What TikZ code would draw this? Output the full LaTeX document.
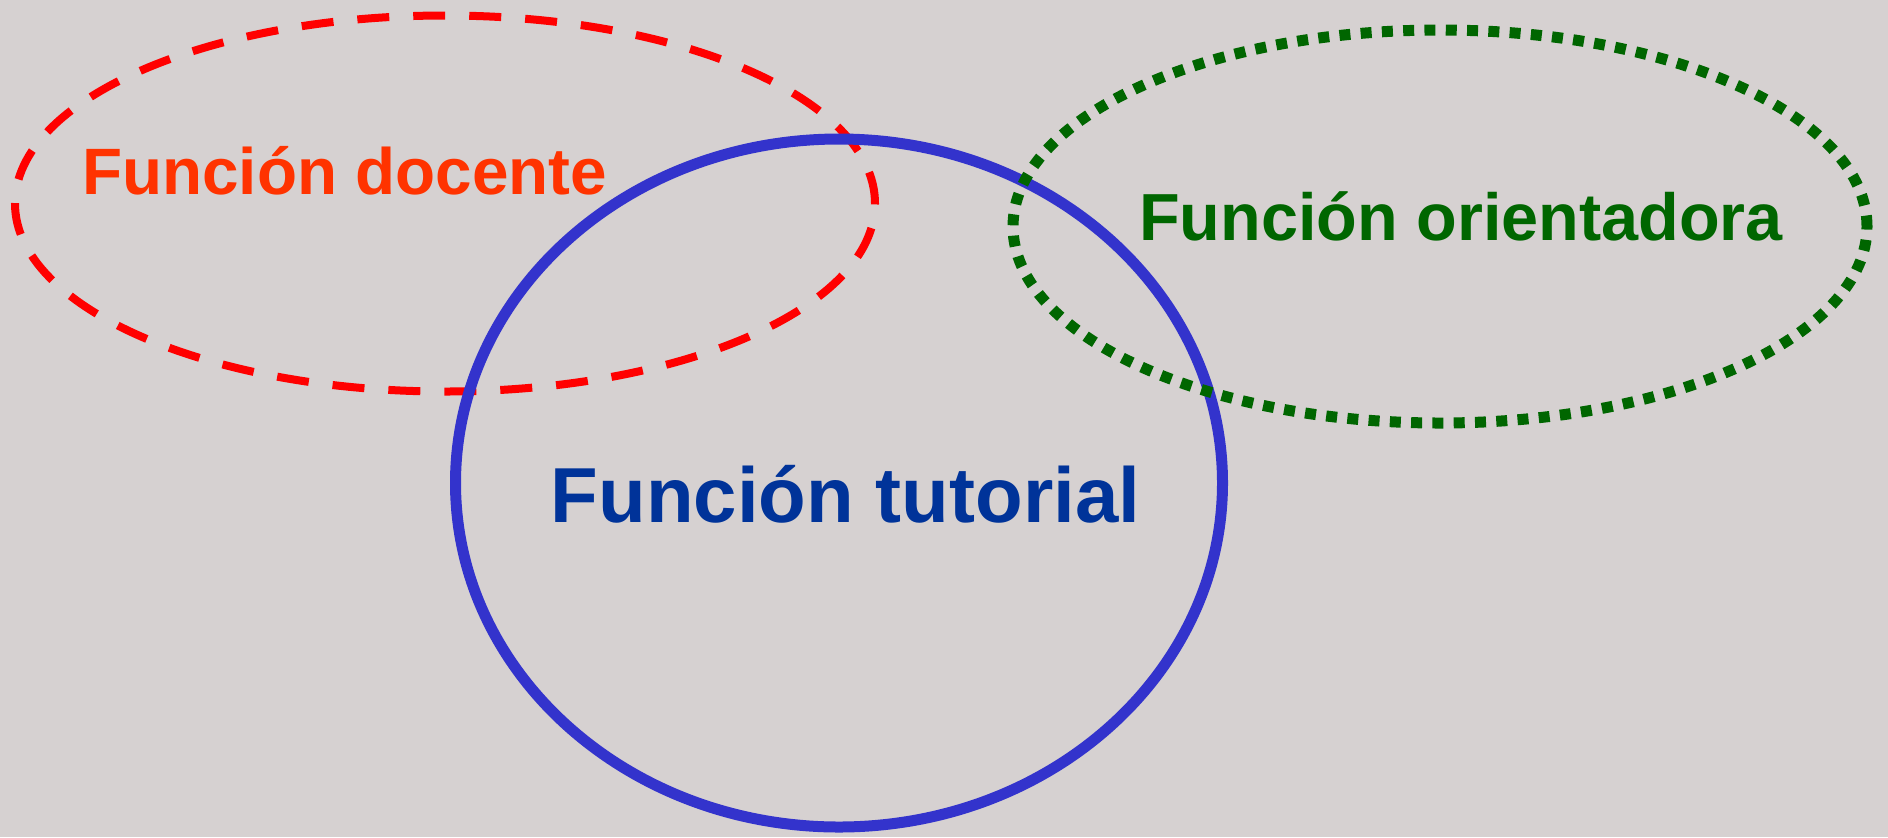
\documentclass[tikz,border=0pt]{standalone}
\usepackage{fontspec}
\setmainfont{Liberation Sans}
\usetikzlibrary{shapes.geometric}
\definecolor{bgcol}{HTML}{D6D1D1}
\definecolor{redline}{HTML}{FF0000}
\definecolor{redtext}{HTML}{FF3300}
\definecolor{greenline}{HTML}{006600}
\definecolor{blueline}{HTML}{3333CC}
\definecolor{bluetext}{HTML}{003399}
\tikzset{
  ring/.style={ellipse, inner sep=0pt, outer sep=0pt},
  lbl/.style={anchor=base, inner sep=0pt, font=\bfseries}
}
\begin{document}
\begin{tikzpicture}[x=0.5pt, y=-0.5pt]
\fill[bgcol] (0,0) rectangle (1888,837);
\useasboundingbox (0,0) rectangle (1888,837);
\node[ring, draw=redline, line width=4pt, dash pattern=on 16pt off 12pt,
      minimum width=430pt, minimum height=188pt] (docring) at (445,203.5) {};
\node[ring, draw=blueline, line width=5.5pt,
      minimum width=383.5pt, minimum height=344pt] (tutring) at (839,483) {};
\node[ring, draw=greenline, line width=5.5pt, dash pattern=on 5.5pt off 5.15pt,
      minimum width=427pt, minimum height=196.5pt] (oriring) at (1440,226.5) {};
\node[lbl, text=redtext, font=\bfseries\fontsize{32.8pt}{36pt}\selectfont] (doc) at (344.5,194) {Función docente};
\node[lbl, text=greenline, font=\bfseries\fontsize{33.3pt}{37pt}\selectfont] (ori) at (1461,240) {Función orientadora};
\node[lbl, text=bluetext, font=\bfseries\fontsize{39pt}{42pt}\selectfont] (tut) at (845.5,522) {Función tutorial};
\end{tikzpicture}
\end{document}
